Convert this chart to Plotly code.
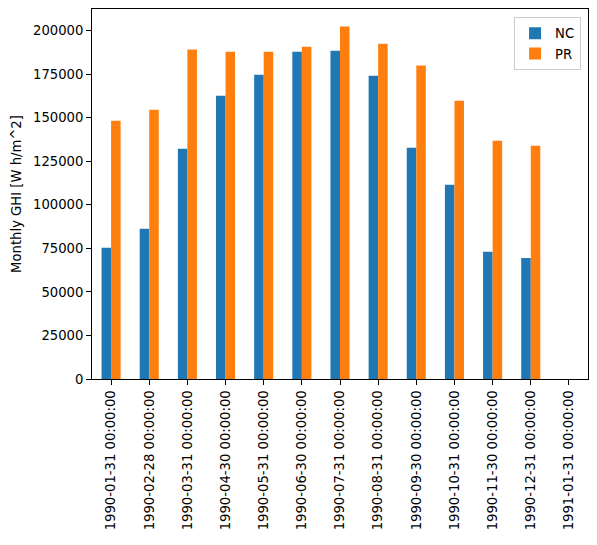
import plotly.graph_objects as go

categories = ["1990-01-31 00:00:00", "1990-02-28 00:00:00", "1990-03-31 00:00:00",
              "1990-04-30 00:00:00", "1990-05-31 00:00:00", "1990-06-30 00:00:00",
              "1990-07-31 00:00:00", "1990-08-31 00:00:00", "1990-09-30 00:00:00",
              "1990-10-31 00:00:00", "1990-11-30 00:00:00", "1990-12-31 00:00:00",
              "1991-01-31 00:00:00"]
nc_values = [75300, 86200, 132200, 162600, 174700, 187900, 188500,
             174100, 132800, 111500, 73000, 69500, None]
pr_values = [148300, 154600, 189100, 187900, 187900, 190800, 202300,
             192500, 179900, 159800, 136800, 133900, None]
y_ticks = [0, 25000, 50000, 75000, 100000, 125000, 150000, 175000, 200000]

FONT = "DejaVu Sans"
FS = 13.2

fig = go.Figure()
fig.add_trace(go.Bar(x=categories, y=nc_values, name="NC", marker_color="#1f77b4",
                     marker_line_width=0))
fig.add_trace(go.Bar(x=categories, y=pr_values, name="PR", marker_color="#ff7f0e",
                     marker_line_width=0))

fig.update_layout(
    width=597, height=545,
    margin=dict(l=92, r=9, t=9, b=166, autoexpand=False),
    paper_bgcolor="white", plot_bgcolor="white",
    barmode="group", bargap=0.5, bargroupgap=0,
    font=dict(family=FONT, size=FS, color="black"),
    showlegend=True,
    legend=dict(x=0.986, y=0.978, xanchor="right", yanchor="top",
                bgcolor="rgba(255,255,255,0.8)", bordercolor="#cccccc", borderwidth=1,
                font=dict(family=FONT, size=FS), itemwidth=30,
                tracegroupgap=0),
)
fig.update_xaxes(
    type="category", tickangle=-90, showline=True, linecolor="black", linewidth=1,
    mirror=True, ticks="outside", ticklen=5, tickcolor="black", showgrid=False,
    range=[-0.5, 12.5], tickfont=dict(family=FONT, size=FS), automargin=False,
)
fig.update_yaxes(
    range=[0, 212400], tickvals=y_ticks, tickformat="d",
    showline=True, linecolor="black", linewidth=1, mirror=True,
    ticks="outside", ticklen=5, tickcolor="black", showgrid=False, zeroline=False,
    title=dict(text="Monthly GHI [W h/m^2]", font=dict(family=FONT, size=FS), standoff=8),
    tickfont=dict(family=FONT, size=FS), automargin=False,
)

fig.write_html("out.html", config={"displayModeBar": False},
               post_script="document.body.style.margin='0';document.body.style.padding='0';")
